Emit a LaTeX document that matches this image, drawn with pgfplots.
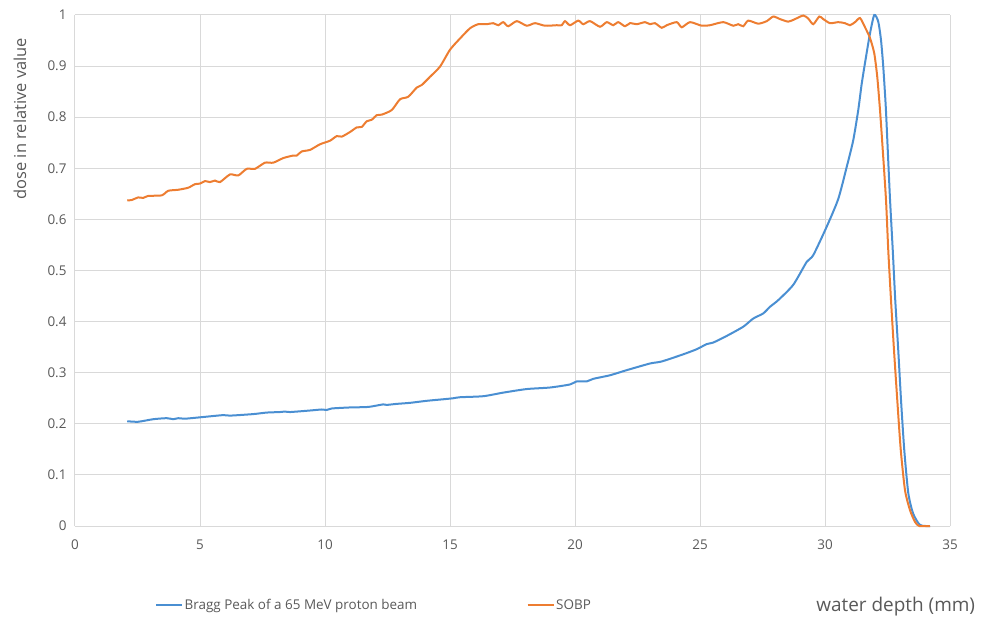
\documentclass[border=0pt]{standalone}
\usepackage{pgfplots}
\pgfplotsset{compat=1.18}
\usepackage{fontspec}
\setmainfont{Open Sans}
\definecolor{txt}{HTML}{595959}
\definecolor{gridc}{HTML}{D9D9D9}
\definecolor{axc}{HTML}{BFBFBF}
\definecolor{blue1}{HTML}{4A8FD2}
\definecolor{orange1}{HTML}{ED7D31}

\begin{document}
\begin{tikzpicture}
\useasboundingbox (-75bp,-93bp) rectangle (907bp,526bp);
\begin{axis}[
  at={(0,0)}, anchor=south west,
  scale only axis, width=875bp, height=511bp,
  xmin=0, xmax=35, ymin=0, ymax=1,
  xtick={0,5,10,15,20,25,30,35},
  ytick={0,0.1,0.2,0.3,0.4,0.5,0.6,0.7,0.8,0.9,1},
  major tick length=0pt,
  axis line style={draw=none},
  grid=major,
  major grid style={draw=gridc, line width=1bp},
  extra y ticks={0},
  extra y tick labels={},
  extra y tick style={grid style={draw=axc, line width=2bp}},
  /pgf/number format/assume math mode=true,
  ticklabel style={font=\fontsize{13.5}{15}\selectfont, text=txt},
  xticklabel style={yshift=-10bp},
  yticklabel style={xshift=-5bp},
  xlabel={water depth (mm)},
  xlabel style={at={(axis description cs:0.938,-0.158)}, anchor=center, font=\fontsize{19}{22}\selectfont, text=txt},
  ylabel={dose in relative value},
  ylabel style={at={(axis description cs:-0.063,0.797)}, anchor=center, font=\fontsize{16.5}{19}\selectfont, text=txt},
  clip=false,
  legend columns=2,
  legend style={at={(axis description cs:0.0914,-0.1546)}, anchor=west, draw=none, fill=none, inner sep=0pt,
    font=\fontsize{13.5}{15}\selectfont, text=txt,
    nodes={inner sep=1.5bp},
    /tikz/every even column/.append style={column sep=108bp}},
  legend image code/.code={\draw[#1] (0bp,0bp) -- (26bp,0bp);},
]
\addplot[blue1, line width=2bp, smooth, tension=0.4] coordinates {
(2.09,0.205) (2.53,0.204) (3.13,0.209) (3.67,0.211) (3.93,0.209) (4.13,0.211) (4.4,0.210)
(5.07,0.213) (5.93,0.217) (6.2,0.216) (7.13,0.219) (7.67,0.222) (8.2,0.223) (8.4,0.224)
(8.6,0.223) (9.4,0.226) (9.87,0.228) (10.07,0.227) (10.27,0.230) (11.0,0.232) (11.73,0.233)
(12.33,0.238) (12.47,0.237) (12.87,0.239) (13.4,0.241) (14.07,0.245) (14.73,0.248) (15.13,0.250)
(15.4,0.252) (16.33,0.254) (17.13,0.261) (18.07,0.268) (19.0,0.271) (19.8,0.277) (20.07,0.283)
(20.47,0.283) (20.73,0.288) (21.4,0.295) (22.07,0.305) (23.0,0.318) (23.47,0.322) (24.33,0.336)
(24.87,0.346) (25.27,0.356) (25.53,0.359) (26.07,0.372) (26.73,0.390) (27.13,0.406) (27.53,0.416)
(27.8,0.429) (28.13,0.442) (28.73,0.472) (29.27,0.517) (29.53,0.530) (30.07,0.586) (30.53,0.640)
(30.87,0.703) (31.13,0.755) (31.33,0.814) (31.47,0.866) (31.64,0.918) (31.8,0.964) (31.97,1.0)
(32.13,0.987) (32.24,0.951) (32.33,0.899) (32.43,0.821) (32.51,0.736) (32.6,0.640) (32.71,0.540)
(32.81,0.442) (32.93,0.344) (33.04,0.247) (33.17,0.149) (33.33,0.065) (33.52,0.025) (33.8,0.002)
(34.2,0.0)
};
\addlegendentry{Bragg Peak of a 65 MeV proton beam}
\addplot[orange1, line width=2bp, smooth, tension=0.4] coordinates {
(2.09,0.637) (2.27,0.638) (2.53,0.643) (2.73,0.642) (2.93,0.646) (3.47,0.647) (3.73,0.656)
(4.13,0.658) (4.53,0.662) (4.8,0.669) (5.0,0.670) (5.2,0.675) (5.4,0.673) (5.6,0.676)
(5.8,0.673) (6.2,0.688) (6.53,0.686) (6.87,0.699) (7.2,0.699) (7.6,0.711) (7.93,0.711)
(8.33,0.720) (8.73,0.725) (8.87,0.725) (9.07,0.733) (9.4,0.736) (9.8,0.747) (10.2,0.754)
(10.47,0.763) (10.67,0.762) (11.0,0.771) (11.27,0.780) (11.47,0.781) (11.67,0.792) (11.87,0.795)
(12.07,0.804) (12.27,0.805) (12.67,0.814) (13.0,0.835) (13.33,0.840) (13.67,0.858) (13.87,0.863)
(14.2,0.879) (14.6,0.899) (15.0,0.932) (15.4,0.954) (15.8,0.974) (16.13,0.982) (16.47,0.982)
(16.73,0.984) (16.93,0.980) (17.13,0.986) (17.33,0.978) (17.67,0.988) (18.07,0.979) (18.4,0.984)
(18.8,0.979) (19.27,0.980) (19.47,0.980) (19.6,0.988) (19.8,0.980) (20.13,0.989) (20.33,0.982)
(20.6,0.988) (21.0,0.977) (21.27,0.986) (21.53,0.980) (21.73,0.986) (22.0,0.978) (22.2,0.984)
(22.47,0.982) (22.8,0.986) (23.0,0.982) (23.2,0.984) (23.47,0.975) (23.67,0.980) (24.07,0.986)
(24.27,0.976) (24.6,0.986) (25.07,0.979) (25.4,0.980) (25.93,0.986) (26.33,0.979) (26.53,0.982)
(26.73,0.978) (26.93,0.989) (27.33,0.983) (27.67,0.988) (27.93,0.997) (28.2,0.992) (28.53,0.987)
(28.8,0.992) (29.13,0.999) (29.33,0.993) (29.53,0.982) (29.77,0.997) (29.93,0.992) (30.2,0.984)
(30.53,0.986) (30.8,0.984) (31.0,0.980) (31.2,0.986) (31.4,0.994) (31.6,0.976) (31.8,0.955)
(31.97,0.925) (32.09,0.879) (32.2,0.814) (32.31,0.736) (32.44,0.638) (32.53,0.540) (32.64,0.442)
(32.76,0.344) (32.89,0.247) (33.03,0.149) (33.2,0.070) (33.4,0.031) (33.6,0.008) (33.77,0.0)
(34.2,0.0)
};
\addlegendentry{SOBP}
\end{axis}
\end{tikzpicture}
\end{document}
